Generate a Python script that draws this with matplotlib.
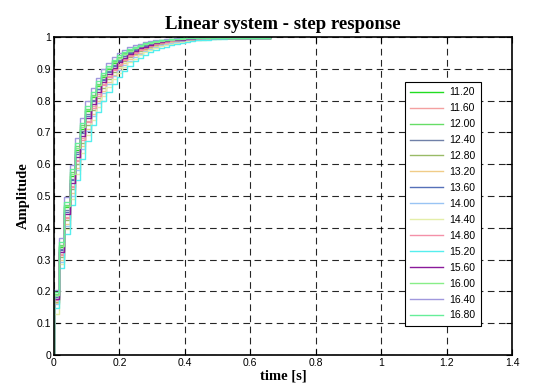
import numpy as np
import matplotlib
matplotlib.use('Agg')
import matplotlib.pyplot as plt

# step responses, one list of samples per legend entry
sample_time = 0.016
t_end = 0.66

labels = ['11.20', '11.60', '12.00', '12.40', '12.80', '13.20', '13.60', '14.00',
          '14.40', '14.80', '15.20', '15.60', '16.00', '16.40', '16.80']

colors = ['#22dd22', '#f4a0a0', '#66dd66', '#7080a8', '#99bb66', '#f0cc88', '#5570b8', '#99c4f4',
          '#e4eea8', '#f490a8', '#55eeee', '#8a1a9a', '#88ee88', '#a098dd', '#66ee99']

y_1120 = [0.188, 0.340, 0.464, 0.564, 0.646, 0.712, 0.766, 0.810, 0.846, 0.875, 0.898, 0.917, 0.933,
          0.945, 0.956, 0.964, 0.971, 0.976, 0.981, 0.984, 0.987, 0.990, 0.992, 0.993, 0.994, 0.995, 0.996]
y_1160 = [0.173, 0.317, 0.435, 0.533, 0.614, 0.681, 0.736, 0.782, 0.820, 0.851, 0.877, 0.898, 0.916,
          0.930, 0.943, 0.952, 0.961, 0.968, 0.973, 0.978, 0.982, 0.985, 0.987, 0.990, 0.991, 0.993,
          0.994, 0.995, 0.996]
y_1200 = [0.192, 0.347, 0.473, 0.574, 0.656, 0.722, 0.775, 0.818, 0.853, 0.882, 0.904, 0.923, 0.938,
          0.950, 0.959, 0.967, 0.973, 0.979, 0.983, 0.986, 0.989, 0.991, 0.993, 0.994, 0.995, 0.996]
y_1240 = [0.183, 0.333, 0.455, 0.555, 0.637, 0.703, 0.758, 0.802, 0.838, 0.868, 0.892, 0.912, 0.928,
          0.941, 0.952, 0.961, 0.968, 0.974, 0.979, 0.983, 0.986, 0.988, 0.991, 0.992, 0.994, 0.995, 0.996]
y_1280 = [0.168, 0.308, 0.424, 0.521, 0.601, 0.668, 0.724, 0.770, 0.809, 0.841, 0.868, 0.890, 0.908,
          0.924, 0.937, 0.947, 0.956, 0.963, 0.970, 0.975, 0.979, 0.983, 0.985, 0.988, 0.990, 0.992,
          0.993, 0.994, 0.995, 0.996]
y_1320 = [0.163, 0.299, 0.413, 0.509, 0.589, 0.656, 0.712, 0.759, 0.798, 0.831, 0.859, 0.882, 0.901,
          0.917, 0.931, 0.942, 0.951, 0.959, 0.966, 0.971, 0.976, 0.980, 0.983, 0.986, 0.988, 0.990,
          0.992, 0.993, 0.994, 0.995, 0.996]
y_1360 = [0.181, 0.330, 0.451, 0.551, 0.632, 0.699, 0.753, 0.798, 0.835, 0.865, 0.889, 0.909, 0.926,
          0.939, 0.950, 0.959, 0.967, 0.973, 0.978, 0.982, 0.985, 0.988, 0.990, 0.992, 0.993, 0.994,
          0.995, 0.996]
y_1400 = [0.160, 0.294, 0.406, 0.501, 0.581, 0.648, 0.704, 0.751, 0.791, 0.824, 0.852, 0.876, 0.896,
          0.912, 0.926, 0.938, 0.948, 0.956, 0.963, 0.969, 0.974, 0.978, 0.982, 0.985, 0.987, 0.989,
          0.991, 0.992, 0.994, 0.995, 0.995, 0.996]
y_1440 = [0.130, 0.286, 0.397, 0.490, 0.569, 0.636, 0.692, 0.740, 0.780, 0.814, 0.843, 0.867, 0.888,
          0.905, 0.920, 0.932, 0.943, 0.952, 0.959, 0.966, 0.971, 0.975, 0.979, 0.982, 0.985, 0.987,
          0.989, 0.991, 0.992, 0.994, 0.995, 0.995, 0.996]
y_1480 = [0.172, 0.314, 0.432, 0.529, 0.610, 0.677, 0.732, 0.778, 0.816, 0.848, 0.874, 0.896, 0.913,
          0.928, 0.941, 0.951, 0.959, 0.966, 0.972, 0.977, 0.981, 0.984, 0.987, 0.989, 0.991, 0.993,
          0.994, 0.995, 0.996]
y_1520 = [0.148, 0.274, 0.381, 0.473, 0.551, 0.617, 0.674, 0.722, 0.763, 0.798, 0.828, 0.853, 0.875,
          0.894, 0.909, 0.923, 0.934, 0.944, 0.952, 0.959, 0.965, 0.970, 0.975, 0.979, 0.982, 0.984,
          0.987, 0.989, 0.990, 0.992, 0.993, 0.994, 0.995, 0.996]
y_1560 = [0.177, 0.323, 0.443, 0.542, 0.623, 0.690, 0.745, 0.790, 0.827, 0.858, 0.883, 0.904, 0.921,
          0.935, 0.946, 0.956, 0.964, 0.970, 0.975, 0.980, 0.983, 0.986, 0.989, 0.991, 0.992, 0.994,
          0.995, 0.996]
y_1600 = [0.190, 0.344, 0.468, 0.569, 0.651, 0.717, 0.771, 0.814, 0.850, 0.878, 0.901, 0.920, 0.935,
          0.948, 0.957, 0.966, 0.972, 0.977, 0.982, 0.985, 0.988, 0.990, 0.992, 0.994, 0.995, 0.996]
y_1640 = [0.204, 0.367, 0.496, 0.599, 0.681, 0.746, 0.798, 0.839, 0.872, 0.898, 0.919, 0.936, 0.949,
          0.959, 0.968, 0.974, 0.979, 0.984, 0.987, 0.990, 0.992, 0.993, 0.995, 0.996]
y_1680 = [0.197, 0.355, 0.482, 0.584, 0.666, 0.731, 0.784, 0.827, 0.861, 0.888, 0.910, 0.928, 0.942,
          0.953, 0.963, 0.970, 0.976, 0.981, 0.984, 0.987, 0.990, 0.992, 0.994, 0.995, 0.996]

responses = [y_1120, y_1160, y_1200, y_1240, y_1280, y_1320, y_1360, y_1400,
             y_1440, y_1480, y_1520, y_1560, y_1600, y_1640, y_1680]

x_ticks = [0, 0.2, 0.4, 0.6, 0.8, 1.0, 1.2, 1.4]
x_ticklabels = ['0', '0.2', '0.4', '0.6', '0.8', '1', '1.2', '1.4']
y_ticks = [0, 0.1, 0.2, 0.3, 0.4, 0.5, 0.6, 0.7, 0.8, 0.9, 1.0]
y_ticklabels = ['0', '0.1', '0.2', '0.3', '0.4', '0.5', '0.6', '0.7', '0.8', '0.9', '1']

plt.rcParams['font.family'] = ['Liberation Sans', 'DejaVu Sans']

fig = plt.figure(figsize=(5.33, 3.89), dpi=100)
ax = fig.add_axes([0.1013, 0.0874, 0.8593, 0.8175])

for vals, lab, col in zip(responses, labels, colors):
    vals = np.asarray(vals)
    t = np.concatenate([[0.0], np.arange(len(vals)) * sample_time, [t_end]])
    y = np.concatenate([[0.0], vals, [vals[-1]]])
    ax.step(t, y, where='post', color=col, lw=1.0, label=lab)

ax.set_xlim(0, 1.4)
ax.set_ylim(0, 1)
ax.set_xticks(x_ticks)
ax.set_xticklabels(x_ticklabels)
ax.set_yticks(y_ticks)
ax.set_yticklabels(y_ticklabels)
ax.tick_params(direction='in', length=4, width=0.8, labelsize=7.5, top=True, right=True, pad=2)
ax.grid(True, color='k', linestyle=(0, (6, 4)), linewidth=0.8, alpha=0.85)
for s in ax.spines.values():
    s.set_linewidth(1.2)

serif = ['Liberation Serif', 'DejaVu Serif']
ax.set_title('Linear system - step response', family=serif, fontweight='bold', fontsize=13.5, pad=6)
ax.set_xlabel('time [s]', family=serif, fontweight='bold', fontsize=10.5, labelpad=1)
ax.set_ylabel('Amplitude', family=serif, fontweight='bold', fontsize=10.5, labelpad=5)

leg = ax.legend(loc='upper left', bbox_to_anchor=(0.766, 0.858), borderaxespad=0, fontsize=7.5,
                fancybox=False, framealpha=1, edgecolor='k', handlelength=3.2, labelspacing=0.57,
                handletextpad=0.6, borderpad=0.5)
leg.get_frame().set_linewidth(0.8)

plt.savefig('out.png', dpi=100)
